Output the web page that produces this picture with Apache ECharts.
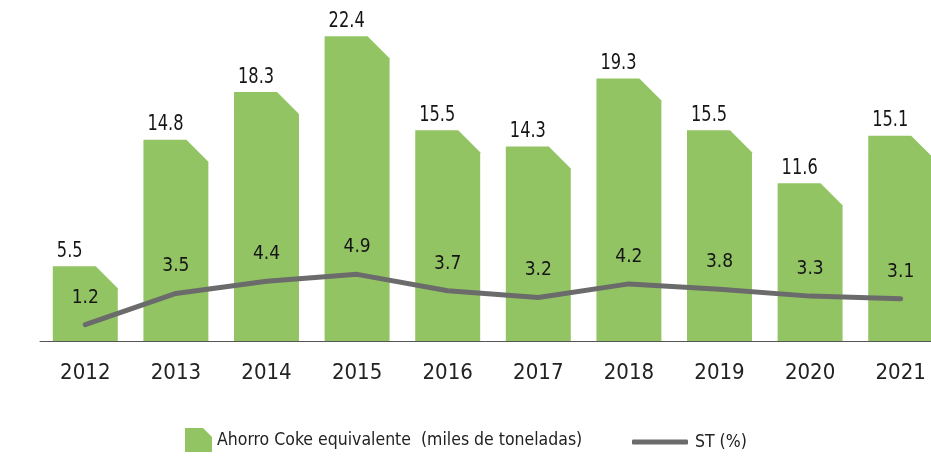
<!DOCTYPE html>
<html>
<head>
<meta charset="utf-8">
<script src="https://cdn.jsdelivr.net/npm/echarts@6/dist/echarts.min.js"></script>
<style>
  html, body { margin: 0; padding: 0; background: #fff; }
  #main { width: 931px; height: 457px; }
</style>
</head>
<body>
<div id="main"></div>
<script>
// datos del gráfico
const years = ['2012', '2013', '2014', '2015', '2016', '2017', '2018', '2019', '2020', '2021'];
const ahorroCoke = [5.5, 14.8, 18.3, 22.4, 15.5, 14.3, 19.3, 15.5, 11.6, 15.1];
const st = [1.2, 3.5, 4.4, 4.9, 3.7, 3.2, 4.2, 3.8, 3.3, 3.1];

const FONT = '"DejaVu Sans Condensed", "Liberation Sans", sans-serif';
const GREEN = '#93c463';
const GREY = '#6b6b6b';

const myChart = echarts.init(document.getElementById('main'));

// barra con la esquina superior derecha cortada
function renderBar(params, api) {
  const cat = api.value(0);
  const val = api.value(1);
  const base = api.coord([cat, 0]);
  const top = api.coord([cat, val]);
  const bw = api.size([1, 0])[0] * 0.717;
  const x0 = base[0] - bw / 2;
  const x1 = base[0] + bw / 2;
  const c = Math.min(22, (base[1] - top[1]) * 0.5);
  return {
    type: 'group',
    children: [{
      type: 'polygon',
      shape: {
        points: [[x0, base[1]], [x0, top[1]], [x1 - c, top[1]], [x1, top[1] + c], [x1, base[1]]]
      },
      style: { fill: GREEN }
    }, {
      type: 'text',
      x: x0 + 4,
      y: top[1] - 15,
      scaleX: 0.82,
      style: {
        text: String(val),
        fontFamily: FONT,
        fontSize: 22,
        fill: '#151515',
        textAlign: 'left',
        textVerticalAlign: 'middle'
      }
    }]
  };
}

myChart.setOption({
  animation: false,
  grid: { left: 40, width: 906, top: 1, bottom: 116, outerBoundsMode: 'none', containLabel: false },
  legend: [{
    left: 180,
    top: 423,
    itemWidth: 27,
    itemHeight: 24,
    textStyle: { fontFamily: FONT, fontSize: 17.5, color: '#222' },
    data: [{ name: 'Ahorro Coke equivalente  (miles de toneladas)', icon: 'path://M0,0 L18,0 L27,9 L27,24 L0,24 Z' }]
  }, {
    left: 627,
    top: 428,
    itemWidth: 56,
    itemHeight: 5,
    textStyle: { fontFamily: FONT, fontSize: 17.5, color: '#222', padding: [0, 0, 0, 2] },
    data: [{ name: 'ST (%)', icon: 'roundRect', itemStyle: { color: GREY } }]
  }],
  xAxis: {
    type: 'category',
    data: years,
    axisLine: { lineStyle: { color: '#555', width: 1 } },
    axisTick: { show: false },
    axisLabel: { fontFamily: FONT, fontSize: 22, color: '#222', margin: 21 }
  },
  yAxis: {
    type: 'value',
    min: 0,
    max: 25,
    show: false,
    splitLine: { show: false }
  },
  series: [{
    name: 'Ahorro Coke equivalente  (miles de toneladas)',
    type: 'custom',
    renderItem: renderBar,
    itemStyle: { color: GREEN },
    encode: { x: 0, y: 1 },
    data: ahorroCoke.map((v, i) => [i, v]),
    z: 1
  }, {
    name: 'ST (%)',
    type: 'line',
    data: st,
    symbol: 'circle',
    symbolSize: 1,
    itemStyle: { color: GREY },
    lineStyle: { color: GREY, width: 5, cap: 'round' },
    label: {
      show: true,
      position: 'top',
      distance: 17,
      fontFamily: FONT,
      fontSize: 19,
      color: '#151515'
    },
    z: 3
  }]
});
</script>
</body>
</html>
